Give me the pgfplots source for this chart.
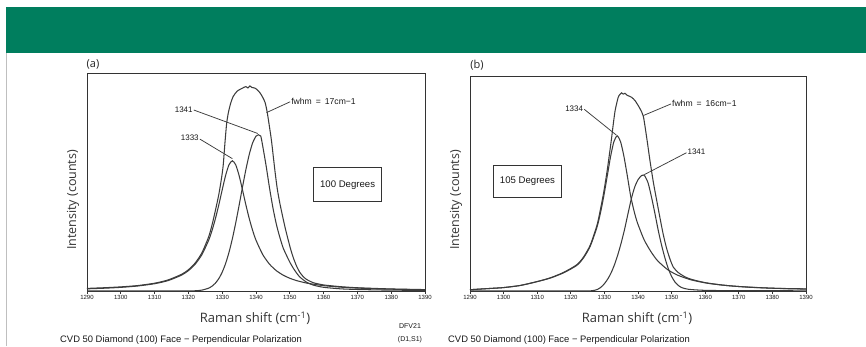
\documentclass[border=0pt]{standalone}
\usepackage{fontspec}
\setmainfont{Liberation Sans}
\newfontfamily\labfont{Open Sans}
\usepackage{pgfplots}
\usepackage{pgfplotstable}
\pgfplotsset{compat=1.18}
\definecolor{banner}{RGB}{0,126,94}
\definecolor{ink}{RGB}{60,60,60}

% ---------- panel (a) ----------
\pgfplotstableread{
x y
1290 1.00
1295 1.28
1300 1.68
1305 2.31
1310 3.36
1314 4.80
1318 7.34
1320 9.39
1322 12.35
1324 16.76
1326 23.41
1327 27.93
1328 33.39
1329 39.73
1330 46.62
1331 53.21
1332 58.15
1333 60.00
1334 58.15
1335 53.21
1336 46.62
1337 39.73
1338 33.39
1339 27.93
1340 23.41
1342 16.76
1344 12.35
1346 9.39
1348 7.34
1350 5.87
1352 4.80
1355 3.65
1360 2.47
1365 1.78
1370 1.34
1380 0.84
1390 0.57
}\CAone
\pgfplotstableread{
x y
1290 0.0
1310 0.0
1318 0.0
1322 0.11
1324 0.41
1326 1.32
1327 2.24
1328 3.65
1329 5.73
1330 8.67
1331 12.64
1332 17.76
1333 24.05
1334 31.39
1335 39.47
1336 47.86
1337 55.90
1338 62.92
1339 68.25
1340 71.35
1340.7 72.0
1341.4 71.4
1342 66.7
1343 57.6
1344 47.5
1345 38.4
1346 30.9
1347 25.0
1348 20.0
1349 16.5
1350 13.3
1351 10.6
1352 8.3
1353 6.4
1355 4.0
1357 2.7
1360 1.7
1365 1.0
1370 0.7
1380 0.4
1390 0.3
}\CAtwo
\pgfplotstableread{
x y
1290 1.2
1295 1.5
1300 1.9
1305 2.5
1310 3.6
1314 5.1
1318 7.7
1320 9.8
1322 12.9
1324 17.6
1326 25.0
1327 30.5
1328 37.2
1329 44.5
1329.8 52.0
1330.3 58.0
1330.8 68.0
1331.3 77.0
1331.8 82.0
1332.5 86.5
1333.3 89.8
1334.5 92.2
1336 93.5
1337 94.2
1337.6 93.6
1338.2 94.5
1338.8 93.8
1339.7 93.5
1340.5 92.5
1341.2 91.3
1342 89.2
1342.7 86.8
1343.3 82.5
1344 75.5
1344.6 69.0
1345.6 55.4
1346.3 47.0
1347.1 40.1
1348.6 29.3
1350.1 20.1
1351 15.5
1352 11.5
1353 8.5
1354 6.6
1355 5.3
1357 3.8
1360 2.8
1365 2.0
1370 1.5
1380 0.95
1390 0.65
}\SA

% ---------- panel (b) ----------
\pgfplotstableread{
x y
1290 0.6
1295 1.1
1300 1.6
1305 2.6
1310 4.4
1314 6.1
1318 8.6
1321.8 12.0
1323.8 15.5
1325.8 21.0
1327.8 29.9
1328.8 36.3
1329.8 44.2
1330.8 53.3
1331.8 62.5
1332.8 69.7
1333.8 72.5
1334.8 69.8
1335.8 63.0
1336.8 54.0
1337.8 44.5
1338.8 37.5
1339.8 32.0
1341.8 24.0
1343.8 18.5
1345.8 14.2
1348.8 10.0
1351.8 7.4
1355.8 5.2
1360.8 3.6
1366.8 2.5
1373.8 1.7
1383.8 1.1
1390 0.9
}\CBone
\pgfplotstableread{
x y
1290 0.0
1320 0.0
1326 0.1
1327 0.3
1328 0.8
1329 1.8
1330 3.4
1331 5.6
1332 8.5
1333 12.3
1334 17.0
1335 22.5
1336 28.8
1337 36.0
1338 43.0
1339 48.5
1340 52.0
1341 53.9
1341.6 54.2
1342 53.8
1343 50.5
1344 44.0
1345 36.5
1346 28.5
1347 21.5
1348 15.5
1349 10.5
1350 6.8
1351 4.2
1352 2.6
1353 1.6
1355 0.8
1360 0.3
1370 0.15
1390 0.1
}\CBtwo
\pgfplotstableread{
x y
1290 0.6
1295 1.1
1300 1.6
1305 2.6
1310 4.4
1314 6.2
1318 8.8
1321.8 12.3
1323.8 15.9
1325.8 21.5
1327.8 30.8
1328.8 38.0
1329.8 46.2
1330.8 56.0
1331.5 64.0
1332.1 71.0
1332.6 77.5
1333.2 84.4
1334.1 90.5
1334.6 91.8
1335.1 92.6
1335.6 92.0
1336.1 92.4
1336.8 91.4
1337.5 91.0
1338.1 90.5
1339.1 89.0
1340.6 85.2
1341.6 81.5
1342.6 71.5
1343.6 60.5
1344.6 50.5
1345.6 42.0
1346.5 34.5
1347.5 26.5
1348.5 20.0
1349.5 15.0
1350.5 11.2
1352 8.6
1354 6.6
1356 5.4
1360 3.9
1365 2.8
1370 2.1
1380 1.3
1390 1.0
}\SB

\pgfplotsset{
  ramanaxis/.style={
    scale only axis,
    xmin=1290, xmax=1390, ymin=0, ymax=100,
    xtick={1290,1300,...,1390},
    ytick=\empty,
    xtick pos=left,
    tick align=outside,
    major tick length=3pt,
    axis line style={line width=1pt, color=black!80},
    every tick/.style={black!80, line width=0.7pt},
    xticklabel style={font=\fontsize{6}{7}\selectfont, color=black!90, inner sep=1.5pt},
    /pgf/number format/1000 sep={},
    /pgf/number format/assume math mode=true,
    clip=false,
  },
  curve/.style={ink, line width=1.05pt, smooth, tension=0.4, no marks},
}
\tikzset{
  leader/.style={ink, line width=0.75pt},
  annot/.style={font=\fontsize{8}{9}\selectfont, color=black!90, inner sep=1pt},
}

\begin{document}
\begin{tikzpicture}[x=1pt,y=1pt]
\path[use as bounding box] (0,0) rectangle (866,346);
\fill[white] (0,0) rectangle (866,346);
\fill[banner] (6,293) rectangle (866,339);
\draw[black!25, line width=0.6pt] (6.5,0) -- (6.5,293);

% ---------------- panel (a) ----------------
\begin{axis}[ramanaxis, at={(87pt,55pt)}, anchor=south west, width=338pt, height=217pt]
\addplot[curve] table {\CAone};
\addplot[curve] table {\CAtwo};
\addplot[curve] table {\SA};
\draw[leader] (axis cs:1321.6,83.4) -- (axis cs:1340.5,72.6);
\node[annot, anchor=east] at (axis cs:1321.6,83.6) {1341};
\draw[leader] (axis cs:1323.4,70.0) -- (axis cs:1333.0,61.0);
\node[annot, anchor=east] at (axis cs:1323.4,70.4) {1333};
\draw[leader] (axis cs:1350.1,87.2) -- (axis cs:1343.1,82.2);
\node[annot, anchor=west, font=\fontsize{8.6}{9}\selectfont] at (axis cs:1350.1,87.4) {fwhm\hspace{4pt}=\hspace{4pt}17cm−1};
\draw[black!80, line width=0.8pt] (axis cs:1356.95,56.8) rectangle (axis cs:1377.2,41.2);
\node[font=\fontsize{9.6}{10}\selectfont, color=black!90] at (axis cs:1367.1,49.0) {100 Degrees};
\end{axis}

% ---------------- panel (b) ----------------
\begin{axis}[ramanaxis, at={(470pt,55pt)}, anchor=south west, width=336pt, height=214pt]
\addplot[curve] table {\CBone};
\addplot[curve] table {\CBtwo};
\addplot[curve] table {\SB};
\draw[leader] (axis cs:1324.0,84.9) -- (axis cs:1333.6,72.8);
\node[annot, anchor=east] at (axis cs:1324.0,85.2) {1334};
\draw[leader] (axis cs:1349.8,87.4) -- (axis cs:1341.6,82.0);
\node[annot, anchor=west, font=\fontsize{8.6}{9}\selectfont] at (axis cs:1349.8,87.6) {fwhm\hspace{4pt}=\hspace{4pt}16cm−1};
\draw[leader] (axis cs:1354.4,64.6) -- (axis cs:1341.9,54.4);
\node[annot, anchor=west] at (axis cs:1354.4,65.0) {1341};
\draw[black!80, line width=0.8pt] (axis cs:1296.9,58.9) rectangle (axis cs:1317.3,43.6);
\node[font=\fontsize{9.6}{10}\selectfont, color=black!90] at (axis cs:1307.1,51.2) {105 Degrees};
\end{axis}

% ---------------- text ----------------
\node[font=\labfont\fontsize{11}{12}\selectfont, color=black!85] at (93,282) {(a)};
\node[font=\labfont\fontsize{11}{12}\selectfont, color=black!85] at (477,281) {(b)};

\node[font=\labfont\fontsize{12.5}{13}\selectfont, color=black!80, rotate=90] at (73,146) {Intensity (counts)};
\node[font=\labfont\fontsize{12.5}{13}\selectfont, color=black!80, rotate=90] at (456,146) {Intensity (counts)};

\node[font=\labfont\fontsize{13}{14}\selectfont, color=black!80] at (255,28) {Raman shift (cm\textsuperscript{-1})};
\node[font=\labfont\fontsize{13}{14}\selectfont, color=black!80] at (637,28) {Raman shift (cm\textsuperscript{-1})};

\node[anchor=west, inner sep=0pt, font=\fontsize{9.4}{10}\selectfont, color=black!90] at (60,5.5) {CVD 50 Diamond (100) Face − Perpendicular Polarization};
\node[anchor=west, inner sep=0pt, font=\fontsize{9.4}{10}\selectfont, color=black!90] at (448,5.5) {CVD 50 Diamond (100) Face − Perpendicular Polarization};
\node[font=\fontsize{7}{8}\selectfont, color=black!90] at (410,19.5) {DFV21};
\node[font=\fontsize{7}{8}\selectfont, color=black!90] at (410,6) {(D1,S1)};
\end{tikzpicture}
\end{document}
